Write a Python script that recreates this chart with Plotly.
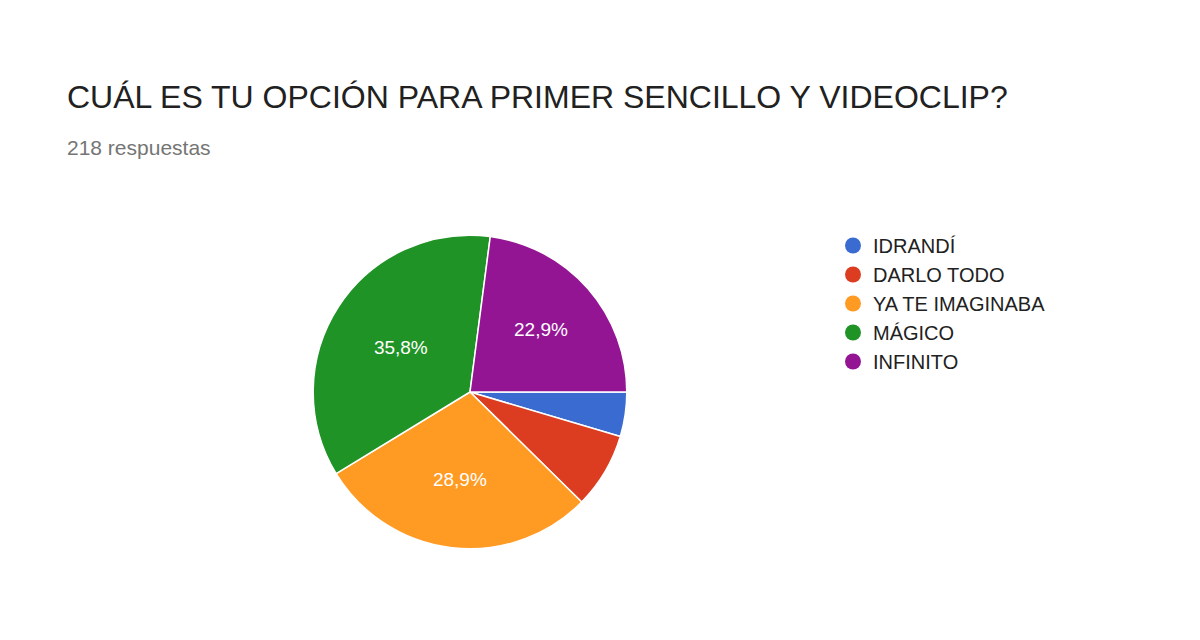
import plotly.graph_objects as go

labels = ["IDRANDÍ", "DARLO TODO", "YA TE IMAGINABA", "MÁGICO", "INFINITO"]
counts = [10, 17, 63, 78, 50]
colors = ["#3a6bd0", "#dc3c1f", "#ff9a23", "#1f9325", "#941594"]

total = sum(counts)
texts = []
for c in counts:
    p = 100 * c / total
    texts.append(f"{p:.1f}%".replace(".", ",") if p >= 10 else "")

fig = go.Figure(go.Pie(
    labels=labels, values=counts, sort=False, direction="clockwise", rotation=90,
    marker=dict(colors=colors, line=dict(color="white", width=1.5)),
    text=texts, textinfo="text", textposition="inside", insidetextorientation="horizontal",
    textfont=dict(color="white", size=19, family="Liberation Sans, Arial"),
    domain=dict(x=[0.254, 0.516], y=[0.155, 0.645]),
    hoverinfo="label+percent", showlegend=False,
))
for lab, col in zip(labels, colors):
    fig.add_trace(go.Scatter(x=[None], y=[None], mode="markers", name=lab,
                             marker=dict(symbol="circle", size=18, color=col)))
fig.update_layout(
    width=1200, height=640, autosize=False,
    margin=dict(l=0, r=0, t=0, b=0),
    paper_bgcolor="white", plot_bgcolor="white",
    xaxis=dict(visible=False), yaxis=dict(visible=False),
    font=dict(family="Liberation Sans, Arial", color="#212121"),
    legend=dict(x=0.6875, y=1-218/640, xanchor="left", yanchor="top",
                font=dict(size=20, color="#212121"), itemwidth=30, tracegroupgap=0),
    annotations=[
        dict(text="CUÁL ES TU OPCIÓN PARA PRIMER SENCILLO Y VIDEOCLIP?", x=57/1200, y=1-89/640,
             xref="paper", yref="paper", xanchor="left", yanchor="middle", showarrow=False,
             font=dict(size=32, color="#212121")),
        dict(text="218 respuestas", x=57/1200, y=1-139/640,
             xref="paper", yref="paper", xanchor="left", yanchor="middle", showarrow=False,
             font=dict(size=21, color="#757575")),
    ],
)
fig.write_html("out.html")
